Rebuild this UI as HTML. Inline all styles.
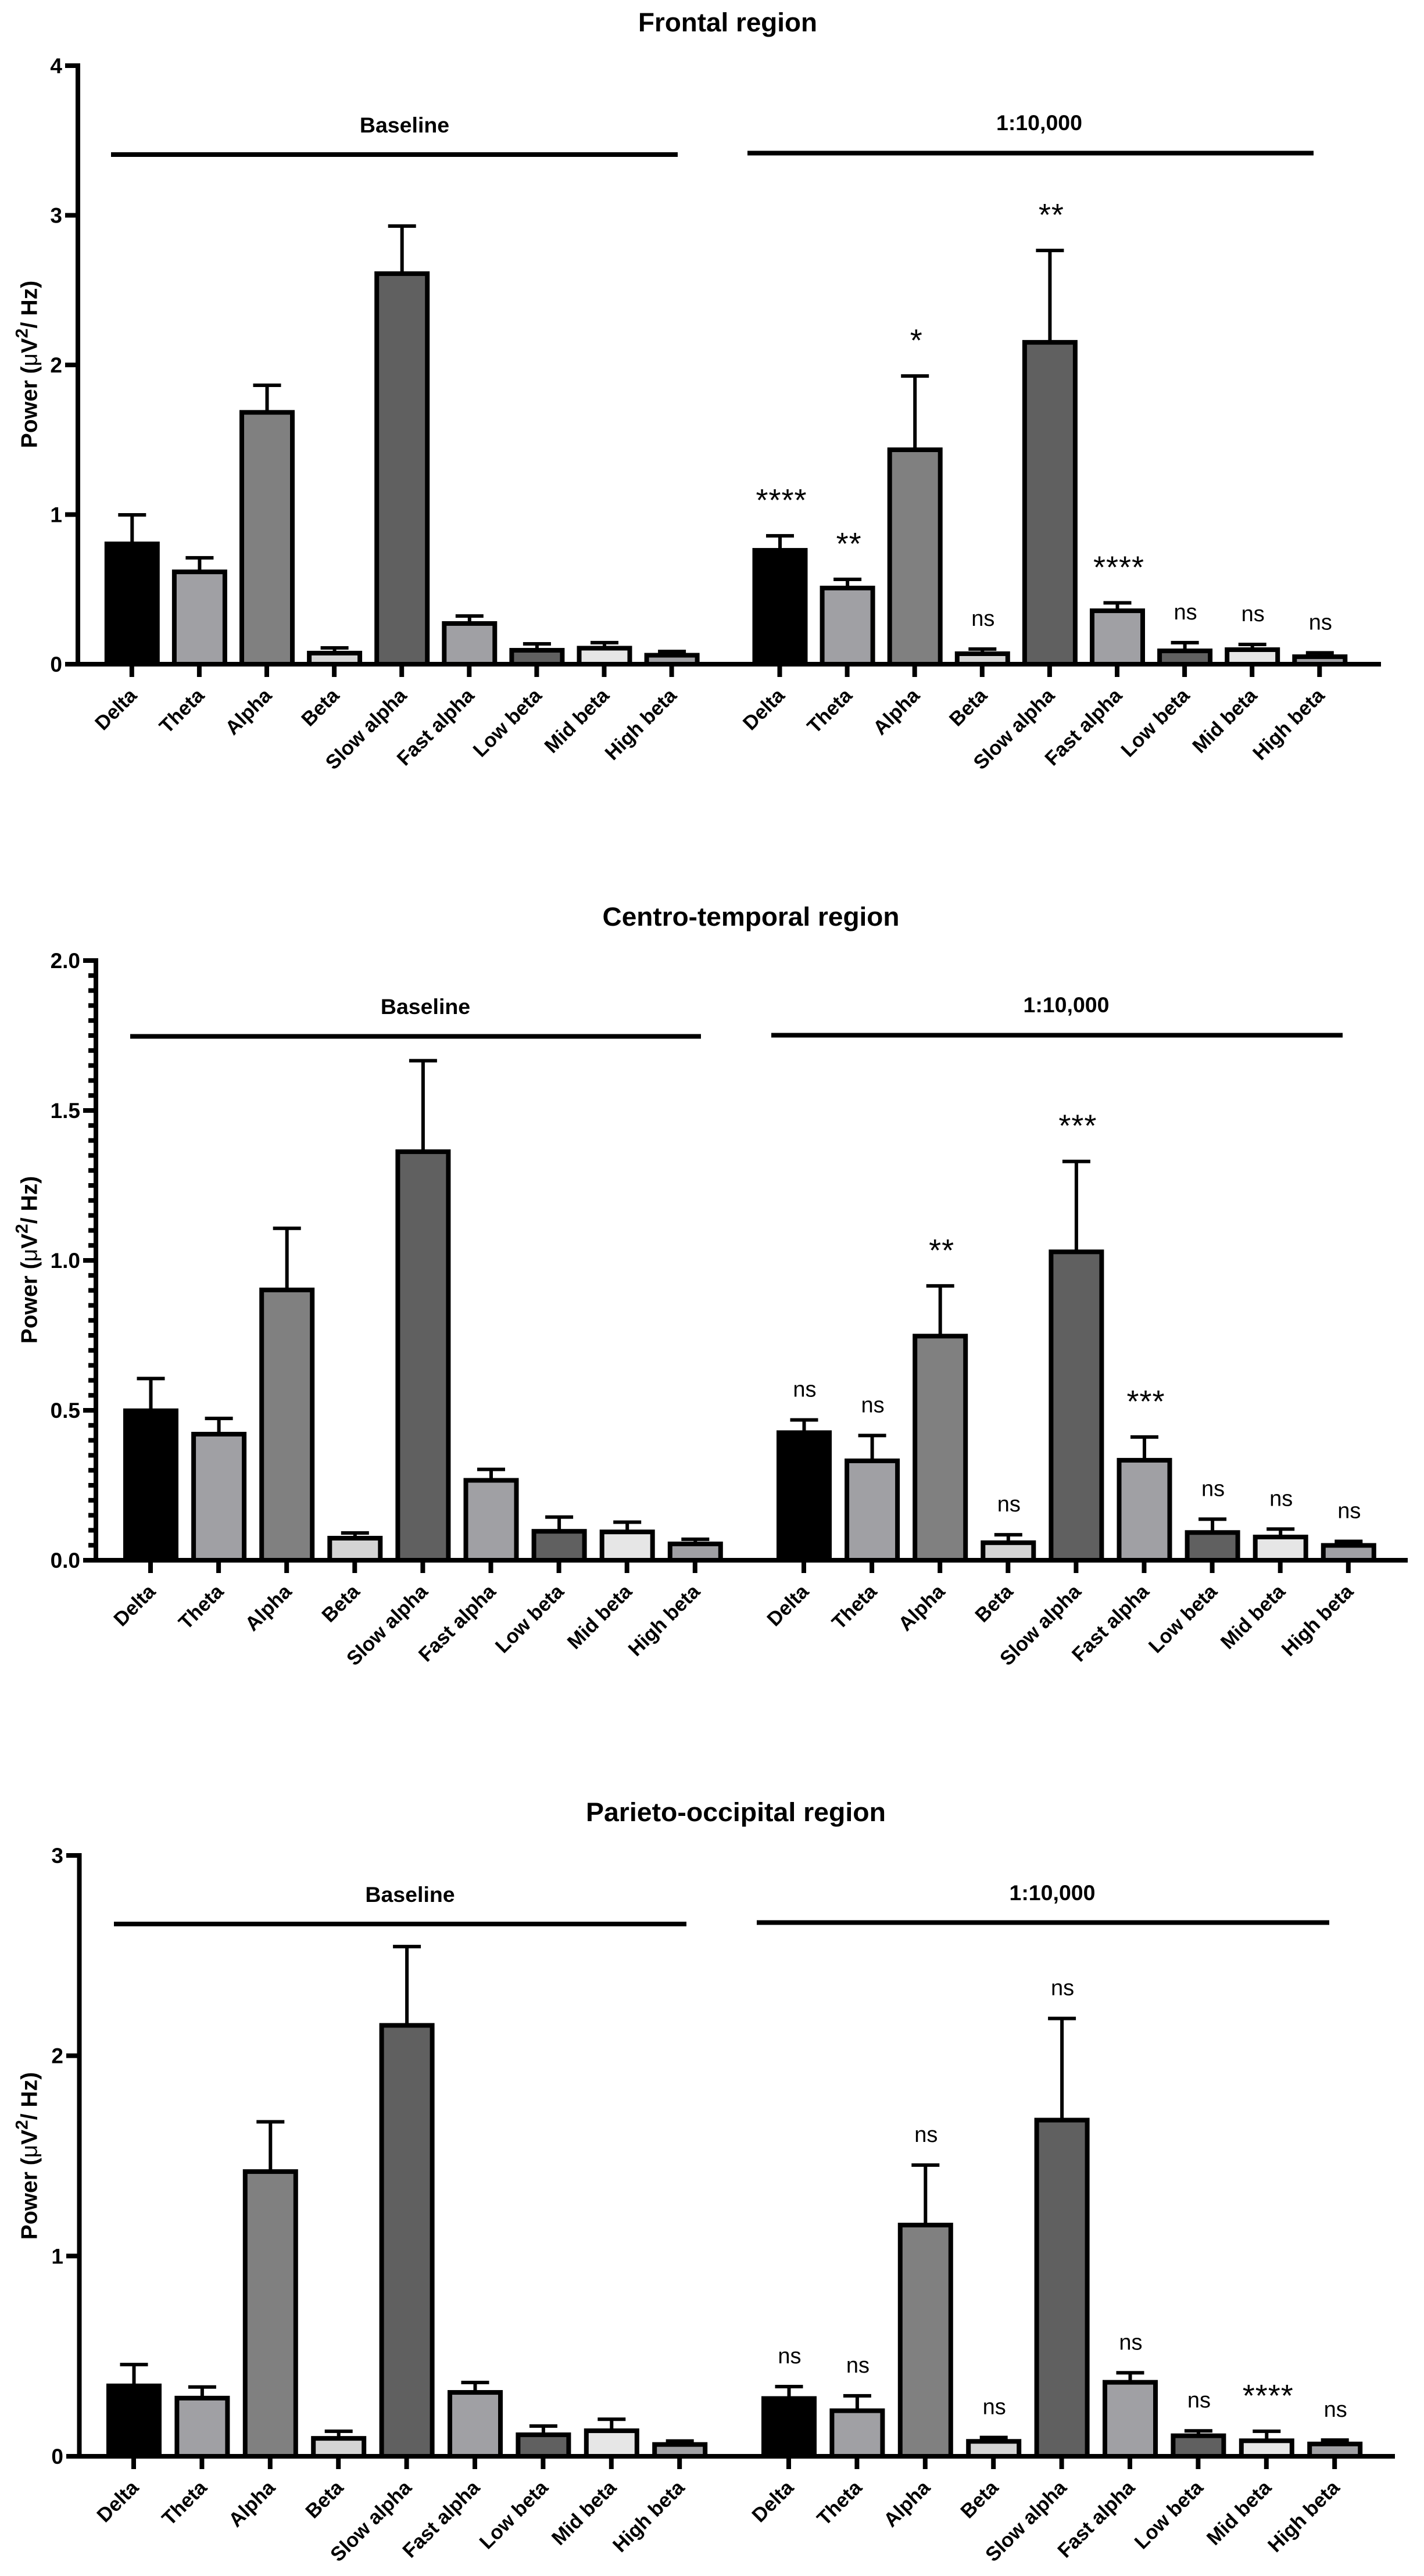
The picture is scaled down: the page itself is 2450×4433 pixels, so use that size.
<!DOCTYPE html>
<html lang="en">
<head>
<meta charset="utf-8">
<title>EEG power by frequency band and region</title>
<style>
html,body{margin:0;padding:0;background:#fff;}
svg{display:block;font-family:"Liberation Sans",Arial,sans-serif;}
text{fill:#000;}
.bold{font-weight:bold;}
</style>
</head>
<body>
<svg id="chart" xmlns="http://www.w3.org/2000/svg" width="2450" height="4433" viewBox="0 0 2450 4433">
<rect x="0" y="0" width="2450" height="4433" fill="#ffffff"/>
</svg>
<script>
// ---- chart data ----
const categories = ['Delta','Theta','Alpha','Beta','Slow alpha','Fast alpha','Low beta','Mid beta','High beta'];
const barFills = ['#000000','#a0a0a4','#808080','#d4d4d4','#606060','#a0a0a4','#606060','#e6e6e6','#a0a0a4'];

const frontalTicks = ['0','1','2','3','4'];
const frontalBaselineMeans = [0.804,0.617,1.683,0.074,2.610,0.272,0.093,0.107,0.060];
const frontalBaselineTops  = [0.998,0.711,1.864,0.109,2.928,0.322,0.136,0.144,0.085];
const frontalDoseMeans = [0.761,0.509,1.433,0.070,2.151,0.357,0.089,0.097,0.050];
const frontalDoseTops  = [0.858,0.567,1.926,0.101,2.765,0.410,0.144,0.132,0.076];
const frontalDoseSig = ['****','**','*','ns','**','****','ns','ns','ns'];

const centroTicks = ['0.0','0.5','1.0','1.5','2.0'];
const centroBaselineMeans = [0.4985,0.4205,0.9015,0.0736,1.3625,0.2665,0.0965,0.0945,0.0545];
const centroBaselineTops  = [0.606,0.473,1.107,0.091,1.666,0.303,0.144,0.127,0.070];
const centroDoseMeans = [0.4255,0.3315,0.7475,0.0585,1.0285,0.3335,0.0925,0.0775,0.0495];
const centroDoseTops  = [0.468,0.416,0.915,0.085,1.330,0.411,0.137,0.104,0.063];
const centroDoseSig = ['ns','ns','**','ns','***','***','ns','ns','ns'];

const parietoTicks = ['0','1','2','3'];
const parietoBaselineMeans = [0.3515,0.2905,1.4215,0.0895,2.1515,0.319,0.1075,0.1275,0.059];
const parietoBaselineTops  = [0.458,0.346,1.670,0.125,2.545,0.3685,0.151,0.185,0.0763];
const parietoDoseMeans = [0.2885,0.2275,1.1545,0.0745,1.6785,0.3695,0.1025,0.0775,0.0615];
const parietoDoseTops  = [0.348,0.302,1.454,0.094,2.186,0.417,0.127,0.125,0.081];
const parietoDoseSig = ['ns','ns','ns','ns','ns','ns','ns','****','ns'];

// ---- layout ----
const svg = document.getElementById('chart');
const NS = 'http://www.w3.org/2000/svg';
function make(tag, attrs, text){
  const el = document.createElementNS(NS, tag);
  for (const k in attrs) el.setAttribute(k, attrs[k]);
  if (text !== undefined) el.textContent = text;
  return el;
}
const STROKE = 8;

function drawPanel(p){
  const g = make('g', {});
  
  
  svg.appendChild(g);
  const yPos = v => p.y0 - v * p.unit;
  const xPos = (first, i) => first + i * p.step;

  // title
  const title = make('text', {x:p.titleX, y:p.titleY, 'text-anchor':'middle', 'font-size':45, 'font-weight':'bold', textLength:p.titleW, lengthAdjust:'spacingAndGlyphs'}, p.title);
  
  
  g.appendChild(title);

  // y axis title
  const yt = make('text', {transform:'translate(63.5,'+p.ylabelY+') rotate(-90)', 'text-anchor':'middle', 'font-size':39, 'font-weight':'bold'});
  
  
  const parts = [['Power (',{}],['\u03BC',{'font-weight':'normal'}],['V',{}],['2',{'font-size':30,dy:-16}],['/ Hz)',{dy:16}]];
  parts.forEach(pt => { yt.appendChild(make('tspan', pt[1], pt[0])); });
  g.appendChild(yt);

  // y axis line
  const top = yPos(p.yMax);
  const yLine = make('rect', {x:p.axisX-STROKE/2, y:top-STROKE/2, width:STROKE, height:p.y0-top+STROKE, fill:'#000'});
  
  
  g.appendChild(yLine);

  // x axis line
  const xLine = make('rect', {x:p.tickLeft, y:p.y0-STROKE/2, width:p.xEnd-p.tickLeft, height:STROKE, fill:'#000'});
  
  
  g.appendChild(xLine);

  // minor y ticks
  if (p.minorStep){
    const n = Math.round(p.yMax / p.minorStep);
    for (let i = 1; i < n; i++){
      const v = i * p.minorStep;
      const mt = make('rect', {x:p.tickLeft+9, y:yPos(v)-STROKE/2, width:p.axisX-p.tickLeft-9, height:STROKE, fill:'#000'});
      
      
      g.appendChild(mt);
    }
  }
  // major y ticks and labels
  p.ticks.forEach((lab, i) => {
    const v = i * p.tickStep;
    const tk = make('rect', {x:p.tickLeft, y:yPos(v)-STROKE/2, width:p.axisX-p.tickLeft, height:STROKE, fill:'#000'});
    
    
    g.appendChild(tk);
    const tl = make('text', {x:p.tickLeft-5, y:yPos(v)+13, 'text-anchor':'end', 'font-size':37, 'font-weight':'bold'}, lab);
    
    
    g.appendChild(tl);
  });

  // the two bar groups
  p.groups.forEach(gr => {
    const gg = make('g', {});
    
    
    g.appendChild(gg);

    const gl = make('text', {x:gr.labelX, y:gr.labelY, 'text-anchor':'middle', 'font-size':37.5, 'font-weight':'bold'}, gr.label);
    
    
    gg.appendChild(gl);

    const gb = make('rect', {x:gr.lineX1, y:gr.lineY-4, width:gr.lineX2-gr.lineX1, height:8, fill:'#000'});
    
    
    gg.appendChild(gb);

    categories.forEach((cat, i) => {
      const cx = xPos(gr.first, i);
      const ym = yPos(gr.means[i]);
      const ye = yPos(gr.tops[i]);

      const stem = make('rect', {x:cx-3, y:ye, width:6, height:ym-ye, fill:'#000'});
      
      
      gg.appendChild(stem);

      const cap = make('rect', {x:cx-24, y:ye-3, width:48, height:6, fill:'#000'});
      
      
      gg.appendChild(cap);

      const bar = make('rect', {x:cx-43.5, y:ym, width:87, height:p.y0-ym, fill:barFills[i], stroke:'#000', 'stroke-width':STROKE});
      
      
      gg.appendChild(bar);

      const xt = make('rect', {x:cx-4.5, y:p.y0+4, width:8, height:18, fill:'#000'});
      
      
      gg.appendChild(xt);

      const lx = cx + 10, ly = p.y0 + 56;
      const xl = make('text', {x:lx, y:ly, transform:'rotate(-45 '+lx+' '+ly+')', 'text-anchor':'end', 'font-size':34.5, 'font-weight':'bold'}, cat);
      
      
      gg.appendChild(xl);

      if (gr.sig){
        const s = gr.sig[i];
        const isStar = s.charAt(0) === '*';
        const sg = make('text', {x:cx + (isStar ? 2.5 : 1), y:ye - (isStar ? 43 : 40), 'text-anchor':'middle', 'font-size': isStar ? 54 : 38, 'letter-spacing': isStar ? 1 : 0}, s);
        
        
        gg.appendChild(sg);
      }
    });
  });
}

drawPanel({
  key:'frontal', title:'Frontal region', titleX:1252, titleY:54, titleW:308, ylabelY:627,
  axisX:134, y0:1143, unit:257.5, yMax:4, tickStep:1, ticks:frontalTicks, minorStep:0,
  tickLeft:112, xEnd:2376, step:116.1,
  groups:[
    {key:'baseline', label:'Baseline', labelX:696, labelY:228, lineX1:191, lineX2:1166, lineY:266, first:227.3, means:frontalBaselineMeans, tops:frontalBaselineTops},
    {key:'dose', label:'1:10,000', labelX:1788, labelY:224, lineX1:1286, lineX2:2260, lineY:263.5, first:1342, means:frontalDoseMeans, tops:frontalDoseTops, sig:frontalDoseSig}
  ]
});
drawPanel({
  key:'centro-temporal', title:'Centro-temporal region', titleX:1292, titleY:1593, titleW:511, ylabelY:2168,
  axisX:165, y0:2685, unit:516, yMax:2, tickStep:0.5, ticks:centroTicks, minorStep:0.05,
  tickLeft:143, xEnd:2422, step:117.1,
  groups:[
    {key:'baseline', label:'Baseline', labelX:732, labelY:1745, lineX1:224, lineX2:1206, lineY:1783.5, first:259.5, means:centroBaselineMeans, tops:centroBaselineTops},
    {key:'dose', label:'1:10,000', labelX:1834.5, labelY:1742, lineX1:1327, lineX2:2310, lineY:1781.5, first:1383.5, means:centroDoseMeans, tops:centroDoseTops, sig:centroDoseSig}
  ]
});
drawPanel({
  key:'parieto-occipital', title:'Parieto-occipital region', titleX:1266, titleY:3134, titleW:516, ylabelY:3710,
  axisX:136.5, y0:4227, unit:344.67, yMax:3, tickStep:1, ticks:parietoTicks, minorStep:0,
  tickLeft:114, xEnd:2400, step:117.4,
  groups:[
    {key:'baseline', label:'Baseline', labelX:705.5, labelY:3273, lineX1:196, lineX2:1181, lineY:3311, first:230.5, means:parietoBaselineMeans, tops:parietoBaselineTops},
    {key:'dose', label:'1:10,000', labelX:1810.5, labelY:3270, lineX1:1302, lineX2:2287, lineY:3308.5, first:1357.5, means:parietoDoseMeans, tops:parietoDoseTops, sig:parietoDoseSig}
  ]
});
</script>
</body>
</html>
